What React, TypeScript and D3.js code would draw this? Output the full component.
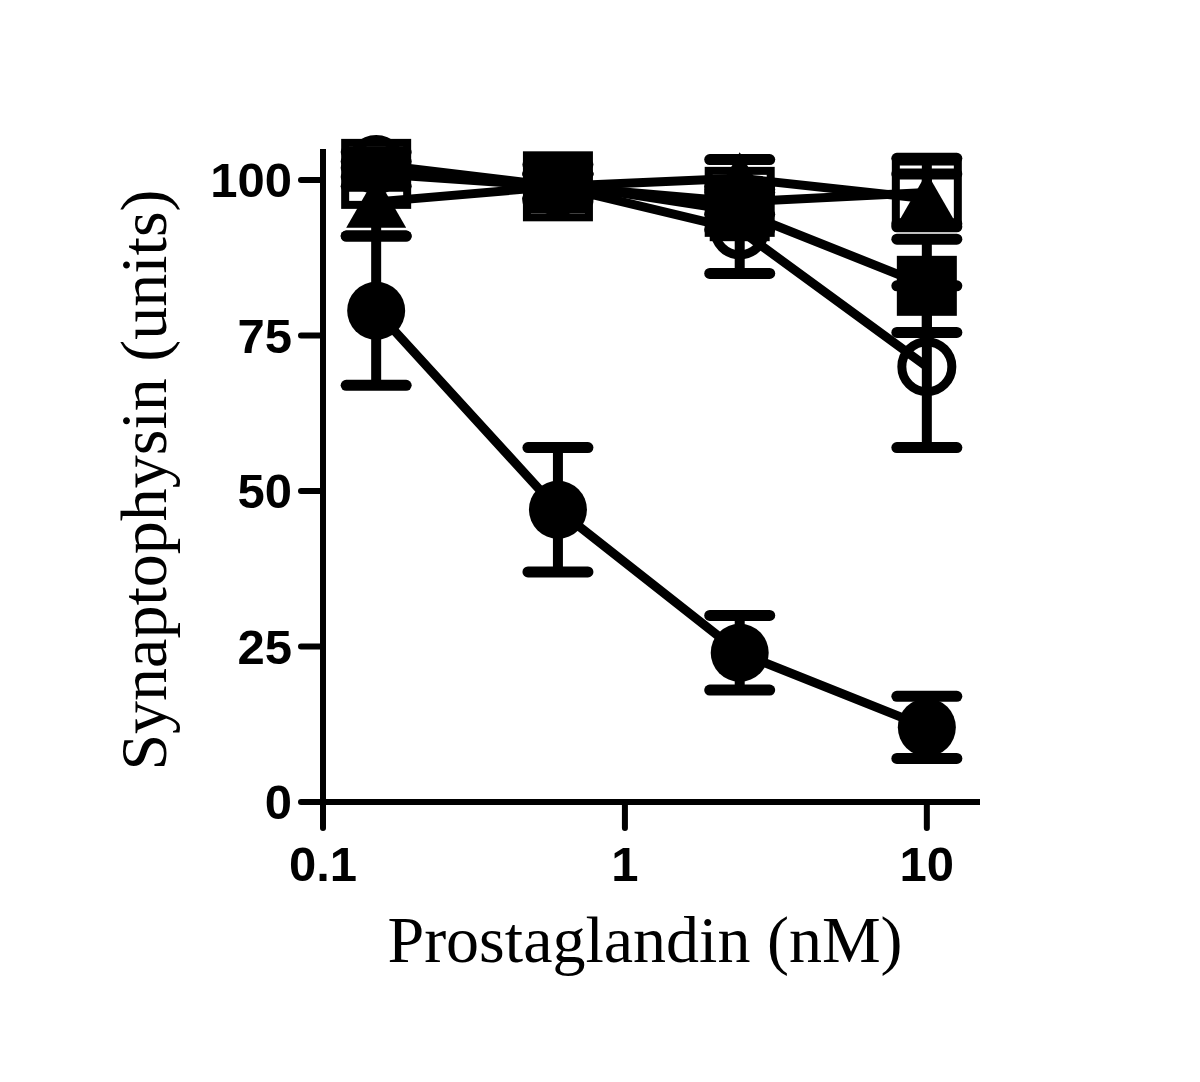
import { scaleLog, scaleLinear, line } from "d3";

const W = 1200;
const H = 1082;

// x positions (nM)
const doses = [0.15, 0.6, 2.4, 10];

// series values and SEM (null = no point)
const filledCircle = [79, 47, 24, 12];
const filledCircleErr = [12, 10, 6, 5];
const openCircle = [102.5, 99, 92, 70];
const openCircleErr = [2, 2, 7, 13];
const filledTriangle = [96.5, 99, 100.3, 97];
const filledTriangleErr = [5.5, 2, 3, 4];
const filledSquare = [null, 99.5, 95, 83];
const filledSquareErr = [0, 3, 3, 7.5];
const openSquare = [101, 99, 96.5, 98];
const openSquareErr = [2, 2, 2, 5.5];

const yTicks = [0, 25, 50, 75, 100];
const xTicks = [0.1, 1, 10];

const x = scaleLog().domain([0.1, 15]).range([323, 980]);
const y = scaleLinear().domain([0, 105]).range([802, 149]);

const series = [
  { name: "filledSquare", values: filledSquare, err: filledSquareErr, shape: "square", open: false },
  { name: "openCircle", values: openCircle, err: openCircleErr, shape: "circle", open: true },
  { name: "openSquare", values: openSquare, err: openSquareErr, shape: "square", open: true },
  { name: "filledTriangle", values: filledTriangle, err: filledTriangleErr, shape: "triangle", open: false },
  { name: "filledCircle", values: filledCircle, err: filledCircleErr, shape: "circle", open: false },
];

const tickFont = "'Liberation Sans', Arial, sans-serif";
const titleFont = "'Liberation Serif', 'Times New Roman', serif";

function Marker({ shape, open, cx, cy }: { shape: string; open: boolean; cx: number; cy: number }) {
  if (shape === "circle") {
    return open ? (
      <circle cx={cx} cy={cy} r={25} fill="none" stroke="#000" strokeWidth={9} />
    ) : (
      <circle cx={cx} cy={cy} r={29} fill="#000" />
    );
  }
  if (shape === "square") {
    return open ? (
      <rect x={cx - 31} y={cy - 31} width={62} height={62} fill="none" stroke="#000" strokeWidth={8} />
    ) : (
      <rect x={cx - 30} y={cy - 30} width={60} height={60} fill="#000" />
    );
  }
  // triangle centred on its bounding box
  const w = 60;
  const h = 52;
  return (
    <path
      d={`M${cx},${cy - h / 2}L${cx + w / 2},${cy + h / 2}L${cx - w / 2},${cy + h / 2}Z`}
      fill="#000"
    />
  );
}

export default function App() {
  const path = line<number | null>()
    .defined((d) => d != null)
    .x((_, i) => x(doses[i]))
    .y((d) => y(d as number));

  return (
    <svg width={W} height={H} style={{ position: "absolute", left: 0, top: 0, background: "#fff" }}>
      {series.map((s) => (
        <g key={s.name}>
          <path d={path(s.values) || ""} fill="none" stroke="#000" strokeWidth={9} />
          {s.values.map((v, i) => {
            if (v == null) return null;
            const cx = x(doses[i]);
            const top = y(v + s.err[i]);
            const bot = y(v - s.err[i]);
            return (
              <g key={"e" + i} stroke="#000" strokeLinecap="round">
                <line x1={cx} x2={cx} y1={top} y2={bot} strokeWidth={10} strokeLinecap="butt" />
                <line x1={cx - 30} x2={cx + 30} y1={top} y2={top} strokeWidth={11} />
                <line x1={cx - 30} x2={cx + 30} y1={bot} y2={bot} strokeWidth={11} />
              </g>
            );
          })}
          {s.values.map((v, i) =>
            v == null ? null : (
              <Marker key={"m" + i} shape={s.shape} open={s.open} cx={x(doses[i])} cy={y(v)} />
            )
          )}
        </g>
      ))}

      {/* y axis */}
      <line x1={x(0.1)} x2={x(0.1)} y1={y(105)} y2={y(0) + 3} stroke="#000" strokeWidth={6} />
      {yTicks.map((t) => (
        <g key={"yt" + t}>
          <line
            x1={x(0.1) - 22}
            x2={x(0.1)}
            y1={y(t)}
            y2={y(t)}
            stroke="#000"
            strokeWidth={6}
            strokeLinecap="round"
          />
          <text
            x={292}
            y={y(t) + 17}
            textAnchor="end"
            fontFamily={tickFont}
            fontWeight="bold"
            fontSize={49}
          >
            {t}
          </text>
        </g>
      ))}

      {/* x axis */}
      <line x1={x(0.1) - 3} x2={980} y1={y(0)} y2={y(0)} stroke="#000" strokeWidth={6} />
      {xTicks.map((t) => (
        <g key={"xt" + t}>
          <line
            x1={x(t)}
            x2={x(t)}
            y1={y(0)}
            y2={y(0) + 26}
            stroke="#000"
            strokeWidth={6}
            strokeLinecap="round"
          />
          <text x={x(t)} y={881} textAnchor="middle" fontFamily={tickFont} fontWeight="bold" fontSize={49}>
            {t}
          </text>
        </g>
      ))}

      {/* axis titles */}
      <text x={645} y={962} textAnchor="middle" fontFamily={titleFont} fontSize={66}>
        Prostaglandin (nM)
      </text>
      <text
        transform={`translate(166,480) rotate(-90)`}
        textAnchor="middle"
        fontFamily={titleFont}
        fontSize={66}
      >
        Synaptophysin (units)
      </text>
    </svg>
  );
}
